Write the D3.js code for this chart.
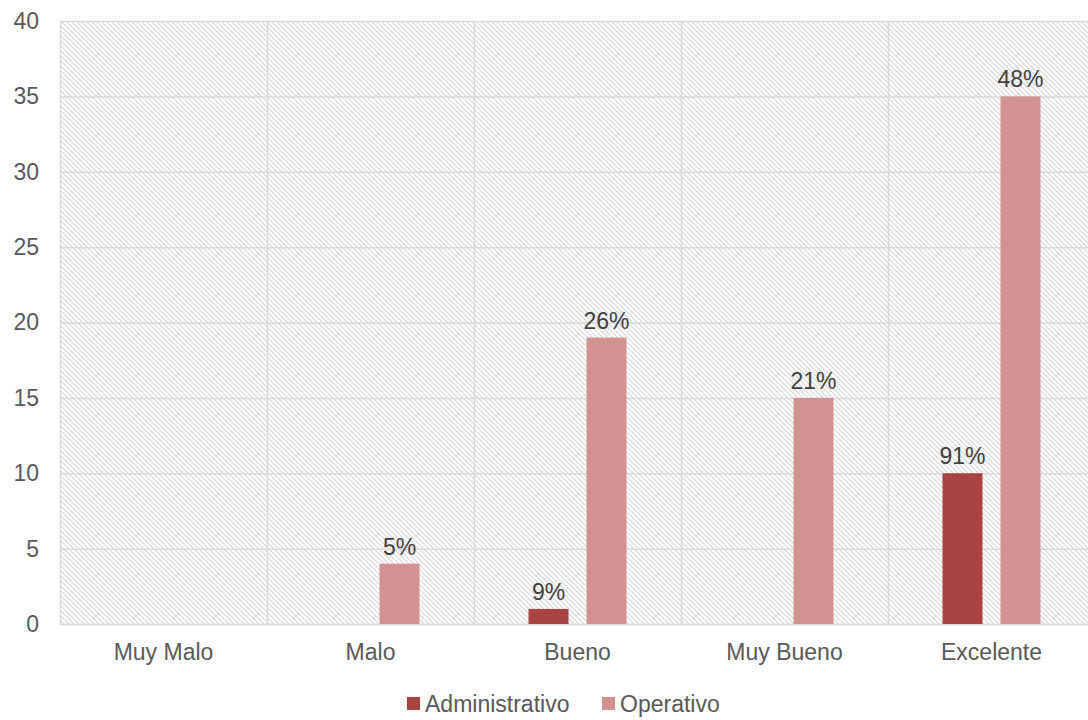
<!DOCTYPE html>
<html>
<head>
<meta charset="utf-8">
<script src="https://cdn.jsdelivr.net/npm/d3@7/dist/d3.min.js"></script>
<style>
  html, body { margin: 0; padding: 0; background: #fff; overflow: hidden; }
  svg { display: block; font-family: "Liberation Sans", Arial, sans-serif; }
</style>
</head>
<body>
<svg id="chart" width="1088" height="720"></svg>
<script>
// Survey ratings by staff group
const categories = ["Muy Malo", "Malo", "Bueno", "Muy Bueno", "Excelente"];
const seriesNames = ["Administrativo", "Operativo"];
const administrativo = [0, 0, 1, 0, 10];
const operativo = [0, 4, 19, 15, 35];
const administrativoLabels = ["", "", "9%", "", "91%"];
const operativoLabels = ["", "5%", "26%", "21%", "48%"];
const yTicks = [0, 5, 10, 15, 20, 25, 30, 35, 40];
const colors = ["#A94442", "#D39292"];

const FONT = "'Liberation Sans', Arial, sans-serif";
const svg = d3.select("#chart");
const margin = { left: 60, top: 21, right: 1095, bottom: 624 };

const x = d3.scaleBand().domain(categories).range([margin.left, margin.right]);
const xInner = d3.scaleBand().domain(seriesNames)
  .range([x.bandwidth() / 2 - 49, x.bandwidth() / 2 + 49]).paddingInner(18 / 58);
const y = d3.scaleLinear().domain([0, 40]).range([margin.bottom, margin.top]);

// Diagonal hatch fill for the plot area
const defs = svg.append("defs");
const pat = defs.append("pattern")
  .attr("id", "hatch").attr("patternUnits", "userSpaceOnUse")
  .attr("width", 5).attr("height", 5);
pat.append("path")
  .attr("d", "M-1,-1 L6,6 M-1,4 L1,6 M4,-1 L6,1")
  .attr("stroke", "#d6d6d6").attr("stroke-width", 1.2).attr("fill", "none");

svg.append("rect")
  .attr("x", margin.left).attr("y", margin.top)
  .attr("width", margin.right - margin.left).attr("height", margin.bottom - margin.top)
  .attr("fill", "url(#hatch)");

// Horizontal gridlines
svg.append("g").selectAll("line").data(yTicks).join("line")
  .attr("x1", margin.left).attr("x2", margin.right)
  .attr("y1", d => y(d) + 0.5).attr("y2", d => y(d) + 0.5)
  .attr("stroke", "#d9d9d9").attr("stroke-width", 1.5);

// Vertical gridlines between categories
const vLines = categories.map(c => x(c)).concat([margin.right]);
svg.append("g").selectAll("line").data(vLines).join("line")
  .attr("x1", d => d + 0.5).attr("x2", d => d + 0.5)
  .attr("y1", margin.top).attr("y2", margin.bottom)
  .attr("stroke", "#d9d9d9").attr("stroke-width", 1.5);

// Y axis
const yAxis = d3.axisLeft(y).tickValues(yTicks).tickSize(0).tickPadding(21);
const yG = svg.append("g").attr("transform", `translate(${margin.left},0)`).call(yAxis);
yG.select(".domain").remove();
yG.selectAll("text").attr("fill", "#595959").style("font-size", "23px")
  .style("font-family", FONT);

// X axis
const xAxis = d3.axisBottom(x).tickSize(0).tickPadding(20);
const xG = svg.append("g").attr("transform", `translate(0,${margin.bottom})`).call(xAxis);
xG.select(".domain").attr("stroke", "#d9d9d9").attr("stroke-width", 1.5);
xG.selectAll("text").attr("fill", "#595959").style("font-size", "23px")
  .style("font-family", FONT);

// Bars
const rows = categories.map((c, i) => ({
  cat: c,
  vals: [
    { s: seriesNames[0], v: administrativo[i], label: administrativoLabels[i], color: colors[0] },
    { s: seriesNames[1], v: operativo[i], label: operativoLabels[i], color: colors[1] }
  ]
}));

const groups = svg.append("g").selectAll("g").data(rows).join("g")
  .attr("transform", d => `translate(${x(d.cat)},0)`);

groups.selectAll("rect").data(d => d.vals.filter(v => v.v > 0)).join("rect")
  .attr("x", d => xInner(d.s)).attr("width", xInner.bandwidth())
  .attr("y", d => y(d.v)).attr("height", d => y(0) - y(d.v))
  .attr("fill", d => d.color);

groups.selectAll("text").data(d => d.vals.filter(v => v.label)).join("text")
  .attr("x", d => xInner(d.s) + xInner.bandwidth() / 2)
  .attr("y", d => y(d.v) - 9)
  .attr("text-anchor", "middle")
  .attr("fill", "#404040").style("font-size", "23px")
  .text(d => d.label);

// Legend
const legend = svg.append("g").attr("transform", "translate(407,697)");
const legendX = [0, 195];
seriesNames.forEach((s, i) => {
  const g = legend.append("g").attr("transform", `translate(${legendX[i]},0)`);
  g.append("rect").attr("width", 13).attr("height", 13).attr("fill", colors[i]);
  g.append("text").attr("x", 18).attr("y", 15)
    .attr("fill", "#595959").style("font-size", "23px").text(s);
});
</script>
</body>
</html>
